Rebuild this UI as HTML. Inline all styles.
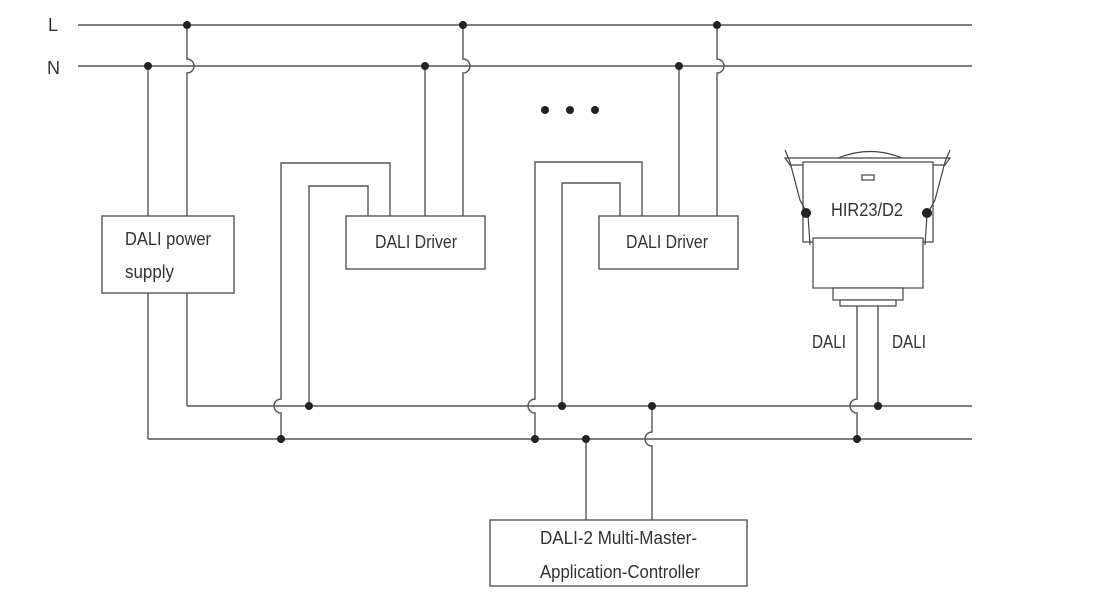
<!DOCTYPE html>
<html><head><meta charset="utf-8"><style>
html,body{margin:0;padding:0;background:#fff;}
svg{display:block;}
text{font-family:"Liberation Sans Narrow","Liberation Sans",sans-serif;font-size:18px;fill:#333;}
</style></head><body>
<svg width="1120" height="602" viewBox="0 0 1120 602" xmlns="http://www.w3.org/2000/svg">
<g stroke="#555" stroke-width="1.4" fill="none">
<line x1="78" y1="25" x2="972" y2="25"/>
<line x1="78" y1="66" x2="972" y2="66"/>
<line x1="187" y1="406" x2="972" y2="406"/>
<line x1="148" y1="439" x2="972" y2="439"/>
<line x1="148" y1="66" x2="148" y2="439"/>
<path d="M187 25 V59 A7 7 0 0 1 187 73 V406"/>
<line x1="425" y1="66" x2="425" y2="216"/>
<path d="M463 25 V59 A7 7 0 0 1 463 73 V216"/>
<path d="M390 216 V163 H281 V399 A7 7 0 0 0 281 413 V439"/>
<path d="M368 216 V186 H309 V406"/>
<line x1="679" y1="66" x2="679" y2="216"/>
<path d="M717 25 V59 A7 7 0 0 1 717 73 V216"/>
<path d="M642 216 V162 H535 V399 A7 7 0 0 0 535 413 V439"/>
<path d="M620 216 V183 H562 V406"/>
<line x1="586" y1="439" x2="586" y2="520"/>
<path d="M652 406 V432 A7 7 0 0 0 652 446 V520"/>
<path d="M857 305 V399 A7 7 0 0 0 857 413 V439"/>
<line x1="878" y1="305" x2="878" y2="406"/>
<rect x="102" y="216" width="132" height="77" fill="#fff"/>
<rect x="346" y="216" width="139" height="53" fill="#fff"/>
<rect x="599" y="216" width="139" height="53" fill="#fff"/>
<rect x="490" y="520" width="257" height="66" fill="#fff"/>
</g>
<g stroke="#444" stroke-width="1.2" fill="#fff">
<path d="M785 158 L950 158 L945 165 L790 165 Z"/>
<path d="M838 158 Q870 145 902 158" fill="none"/>
<rect x="803" y="162" width="130" height="80"/>
<rect x="813" y="238" width="110" height="50"/>
<rect x="833" y="288" width="70" height="12"/>
<rect x="840" y="300" width="56" height="6"/>
<rect x="862" y="175" width="12" height="5"/>
<path d="M785 150 L790 162 L800 200 L808 215 L810 245" fill="none"/>
<path d="M950 150 L945 162 L935 200 L927 215 L925 245" fill="none"/>
</g>
<circle cx="806" cy="213" r="5" fill="#222"/>
<circle cx="927" cy="213" r="5" fill="#222"/>
<g fill="#222">
<circle cx="187" cy="25" r="4"/><circle cx="463" cy="25" r="4"/><circle cx="717" cy="25" r="4"/>
<circle cx="148" cy="66" r="4"/><circle cx="425" cy="66" r="4"/><circle cx="679" cy="66" r="4"/>
<circle cx="309" cy="406" r="4"/><circle cx="562" cy="406" r="4"/><circle cx="652" cy="406" r="4"/><circle cx="878" cy="406" r="4"/>
<circle cx="281" cy="439" r="4"/><circle cx="535" cy="439" r="4"/><circle cx="586" cy="439" r="4"/><circle cx="857" cy="439" r="4"/>
<circle cx="545" cy="110" r="4"/><circle cx="570" cy="110" r="4"/><circle cx="595" cy="110" r="4"/>
</g>
<text x="48" y="31">L</text>
<text x="47" y="74">N</text>
<text x="125" y="245" textLength="86" lengthAdjust="spacingAndGlyphs">DALI power</text>
<text x="125" y="278" textLength="49" lengthAdjust="spacingAndGlyphs">supply</text>
<text x="375" y="248" textLength="82" lengthAdjust="spacingAndGlyphs">DALI Driver</text>
<text x="626" y="248" textLength="82" lengthAdjust="spacingAndGlyphs">DALI Driver</text>
<text x="831" y="216" textLength="72" lengthAdjust="spacingAndGlyphs">HIR23/D2</text>
<text x="812" y="348" textLength="34" lengthAdjust="spacingAndGlyphs">DALI</text>
<text x="892" y="348" textLength="34" lengthAdjust="spacingAndGlyphs">DALI</text>
<text x="540" y="544" textLength="157" lengthAdjust="spacingAndGlyphs">DALI-2 Multi-Master-</text>
<text x="540" y="578" textLength="160" lengthAdjust="spacingAndGlyphs">Application-Controller</text>
</svg>
</body></html>
